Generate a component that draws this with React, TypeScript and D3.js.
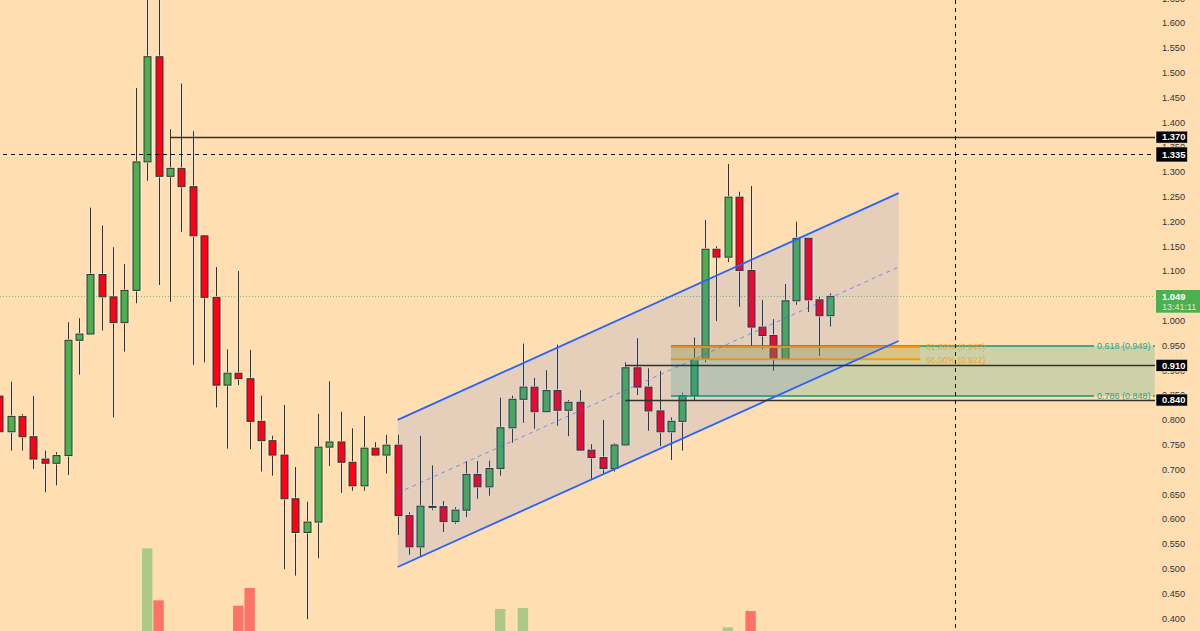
import React from "react";
import * as d3 from "d3";

// prices, one entry per candle
const opens = [0.848, 0.776, 0.807, 0.766, 0.721, 0.7125, 0.728, 0.9605, 0.973, 1.093, 1.048, 0.996, 1.061, 1.32, 1.532, 1.291, 1.307, 1.27, 1.171, 1.047, 0.87, 0.894, 0.883, 0.797, 0.758, 0.729, 0.641, 0.573, 0.594, 0.745, 0.7555, 0.7145, 0.667, 0.743, 0.729, 0.749, 0.607, 0.544, 0.6245, 0.625, 0.595, 0.618, 0.69, 0.665, 0.702, 0.784, 0.8415, 0.866, 0.8165, 0.859, 0.8194, 0.8355, 0.739, 0.724, 0.702, 0.7494, 0.905, 0.866, 0.818, 0.776, 0.797, 0.849, 0.922, 1.144, 1.128, 1.249, 1.101, 0.987, 0.97, 0.923, 1.04, 1.166, 1.042, 1.01];
const highs = [0.848, 0.877, 0.812, 0.848, 0.738, 0.735, 0.997, 1.005, 1.228, 1.192, 1.148, 1.114, 1.469, 1.7, 1.7, 1.386, 1.478, 1.382, 1.172, 1.108, 0.942, 1.1, 0.941, 0.849, 0.768, 0.83, 0.705, 0.635, 0.812, 0.878, 0.8165, 0.783, 0.808, 0.755, 0.77, 0.77, 0.614, 0.768, 0.7085, 0.6365, 0.624, 0.717, 0.717, 0.718, 0.845, 0.849, 0.954, 0.8845, 0.9, 0.952, 0.84, 0.86, 0.751, 0.8, 0.753, 0.916, 0.9645, 0.904, 0.899, 0.805, 0.855, 0.966, 1.203, 1.15, 1.316, 1.26, 1.2715, 1.042, 1.003, 1.074, 1.1995, 1.167, 1.048, 1.055];
const lows = [0.776, 0.738, 0.738, 0.701, 0.654, 0.668, 0.689, 0.891, 0.973, 0.98, 0.805, 0.9375, 1.035, 1.282, 1.072, 1.038, 1.179, 0.911, 0.916, 0.825, 0.742, 0.87, 0.741, 0.696, 0.6875, 0.499, 0.486, 0.398, 0.521, 0.707, 0.653, 0.657, 0.657, 0.7266, 0.692, 0.568, 0.528, 0.524, 0.618, 0.574, 0.59, 0.604, 0.641, 0.647, 0.6875, 0.754, 0.794, 0.782, 0.8165, 0.788, 0.767, 0.739, 0.68, 0.69, 0.696, 0.747, 0.85, 0.778, 0.747, 0.719, 0.738, 0.84, 0.916, 0.999, 1.118, 1.028, 0.9455, 0.942, 0.899, 0.921, 1.032, 1.0175, 0.929, 0.988];
const closes = [0.776, 0.807, 0.766, 0.721, 0.7125, 0.728, 0.9605, 0.973, 1.093, 1.048, 0.996, 1.061, 1.32, 1.532, 1.291, 1.307, 1.27, 1.171, 1.047, 0.87, 0.894, 0.883, 0.797, 0.758, 0.729, 0.641, 0.573, 0.594, 0.745, 0.7555, 0.7145, 0.667, 0.743, 0.729, 0.749, 0.607, 0.544, 0.626, 0.6255, 0.595, 0.618, 0.69, 0.665, 0.702, 0.784, 0.8415, 0.866, 0.8165, 0.859, 0.8194, 0.8355, 0.739, 0.724, 0.702, 0.7494, 0.905, 0.866, 0.818, 0.776, 0.797, 0.849, 0.922, 1.144, 1.128, 1.249, 1.101, 0.987, 0.97, 0.923, 1.04, 1.166, 1.042, 1.01, 1.049];

// only the volume bars tall enough to show above the bottom edge
const volumeCandles = [13, 14, 21, 22, 44, 46, 64, 66];
const volumeValues = [100, 60.5, 56.4, 69.9, 53.9, 54.7, 40, 52.4];

const priceTicks = ["0.400", "0.450", "0.500", "0.550", "0.600", "0.650", "0.700", "0.750", "0.800", "0.850", "0.900", "0.950", "1.000", "1.050", "1.100", "1.150", "1.200", "1.250", "1.300", "1.350", "1.400", "1.450", "1.500", "1.550", "1.600", "1.650"];
const hiddenTicks = ["1.050"];

// channel: [start candle, end candle], [start price, end price]
const channelCandles = [35, 79];
const channelUpper = [0.8, 1.257];
const channelMiddle = [0.6527, 1.1082];
const channelLower = [0.5035, 0.959];

const levels = [
  { price: 1.37, from: 15, label: "1.370" },
  { price: 0.91, from: 55, label: "0.910" },
  { price: 0.84, from: 55, label: "0.840" },
];
const crosshairPrice = 1.335;
const crosshairCandle = 84;
const lastPrice = 1.049;
const fibLevels = [
  { price: 0.949, label: "0.618 (0.949)" },
  { price: 0.848, label: "0.786 (0.848)" },
];
const oteLevels = [
  { price: 0.947, label: "61.80% (0.947)" },
  { price: 0.922, label: "66.00% (0.922)" },
];
const zoneFrom = 59;
const fibTo = 101.5;
const oteTo = 80.9;

const width = 1200;
const height = 631;
const axisLeft = 1155;
const font = "'Liberation Sans', Arial, sans-serif";
const bg = "#FFDFB2";
const green = "#4CAF50";
const red = "#FF0018";
const blue = "#2962FF";
const teal = "#089981";
const orange = "#FF9800";
const ink = "#33322a";

const x = d3.scaleLinear().domain([0, 73]).range([-0.8, 830.3]);
const y = d3.scaleLinear().domain([0.4, 1.6]).range([618.3, 23]);
const vol = d3.scaleLinear().domain([0, 100]).range([680, 548.3]);

const crisp = (v: number) => Math.round(v) + 0.5;

const PriceTag = ({ price, label, tall }: { price: number; label: string; tall?: boolean }) => {
  const h = tall ? 15 : 12;
  return (
    <g>
      <rect x={1156} y={y(price) - h / 2} width={31.5} height={h} fill="#000" stroke="#FFEBCF" strokeWidth={0.6} />
      <text x={1162} y={y(price) + 3.4} fill="#fff" fontSize={9.4} fontWeight={700}>
        {label}
      </text>
    </g>
  );
};

export default function App() {
  const channel = d3.area<number>()
    .x((_, i) => x(channelCandles[i]))
    .y0((_, i) => y(channelLower[i]))
    .y1((_, i) => y(channelUpper[i]));
  const edge = d3.line<[number, number]>()
    .x((d) => x(d[0]))
    .y((d) => y(d[1]));
  const channelLine = (prices: number[]) =>
    edge(channelCandles.map((c, i) => [c, prices[i]] as [number, number])) ?? "";

  return (
    <svg
      width={width}
      height={height}
      viewBox={`0 0 ${width} ${height}`}
      style={{ position: "absolute", left: 0, top: 0, display: "block", background: bg, fontFamily: font }}
    >
      {/* volume */}
      {volumeCandles.map((c, i) => (
        <rect
          key={c}
          x={x(c) - 5.2}
          y={vol(volumeValues[i])}
          width={10.4}
          height={height - vol(volumeValues[i])}
          fill={closes[c] >= opens[c] ? "#ADC987" : "#FF7366"}
        />
      ))}

      {/* last price line */}
      <line x1={0} x2={axisLeft} y1={crisp(y(lastPrice))} y2={crisp(y(lastPrice))} stroke={green} strokeOpacity={0.7} strokeDasharray="1 2" />

      {/* candles */}
      {opens.map((o, i) => {
        const up = closes[i] >= o;
        const cx = Math.round(x(i));
        const top = y(Math.max(o, closes[i]));
        const bottom = y(Math.min(o, closes[i]));
        return (
          <g key={i}>
            <line x1={cx + 0.5} x2={cx + 0.5} y1={y(highs[i])} y2={y(lows[i])} stroke="#FFF1DC" strokeWidth={2.6} />
            <line x1={cx + 0.5} x2={cx + 0.5} y1={y(highs[i])} y2={y(lows[i])} stroke={ink} strokeWidth={1.1} />
            <rect x={cx - 3.5} y={top} width={8} height={Math.max(bottom - top, 1)} fill="none" stroke="#FFF1DC" strokeWidth={2} />
            <rect x={cx - 3} y={top} width={7} height={Math.max(bottom - top, 1)} fill={up ? green : red} stroke={ink} strokeWidth={1} />
          </g>
        );
      })}

      {/* fib zone */}
      <rect x={x(zoneFrom)} width={x(fibTo) - x(zoneFrom)} y={y(fibLevels[0].price)} height={y(fibLevels[1].price) - y(fibLevels[0].price)} fill={teal} fillOpacity={0.2} />
      {fibLevels.map((l) => (
        <g key={l.label}>
          <line x1={x(zoneFrom)} x2={1094} y1={y(l.price)} y2={y(l.price)} stroke={teal} strokeWidth={1.5} />
          <line x1={1153} x2={x(fibTo)} y1={y(l.price)} y2={y(l.price)} stroke={teal} strokeWidth={1.5} />
          <text x={1097} y={y(l.price) + 3.2} fill="#22A68F" fontSize={9}>
            {l.label}
          </text>
        </g>
      ))}

      {/* retracement box */}
      <rect x={x(zoneFrom)} width={x(oteTo) - x(zoneFrom)} y={y(oteLevels[0].price)} height={y(oteLevels[1].price) - y(oteLevels[0].price)} fill={orange} fillOpacity={0.2} />
      {oteLevels.map((l) => (
        <g key={l.label}>
          <line x1={x(zoneFrom)} x2={x(oteTo)} y1={y(l.price)} y2={y(l.price)} stroke={orange} strokeWidth={2} />
          <text x={926} y={y(l.price) + 3.2} fill={orange} fillOpacity={0.8} fontSize={8.7}>
            {l.label}
          </text>
        </g>
      ))}

      {/* channel */}
      <path d={channel(channelCandles) ?? ""} fill={blue} fillOpacity={0.12} />
      <path d={channelLine(channelUpper)} fill="none" stroke={blue} strokeWidth={1.8} />
      <path d={channelLine(channelLower)} fill="none" stroke={blue} strokeWidth={1.8} />
      <path d={channelLine(channelMiddle)} fill="none" stroke={blue} strokeOpacity={0.6} strokeDasharray="4 4" />

      {/* horizontal levels */}
      {levels.map((l) => (
        <line key={l.label} x1={x(l.from)} x2={axisLeft} y1={crisp(y(l.price))} y2={crisp(y(l.price))} stroke={ink} strokeWidth={1.3} />
      ))}

      {/* crosshair */}
      <line x1={0} x2={axisLeft} y1={crisp(y(crosshairPrice))} y2={crisp(y(crosshairPrice))} stroke="#111" strokeDasharray="4 4" strokeDashoffset={5} />
      <line x1={crisp(x(crosshairCandle)) - 1} x2={crisp(x(crosshairCandle)) - 1} y1={0} y2={height} stroke="#111" strokeDasharray="4 4" />

      {/* price axis */}
      {priceTicks
        .filter((t) => !hiddenTicks.includes(t))
        .map((t) => (
          <text key={t} x={1162} y={y(+t) + 3.3} fill="#333" fontSize={9.2}>
            {t}
          </text>
        ))}
      {levels.map((l) => (
        <PriceTag key={l.label} price={l.price} label={l.label} />
      ))}
      <PriceTag price={crosshairPrice} label={crosshairPrice.toFixed(3)} tall />

      <rect x={1156} y={290} width={44} height={22.7} fill={green} />
      <text x={1162} y={y(lastPrice) + 3.3} fill="#fff" fontSize={9.4} fontWeight={700}>
        {lastPrice.toFixed(3)}
      </text>
      <text x={1162} y={310} fill="#fff" fillOpacity={0.8} fontSize={9}>
        13:41:11
      </text>
    </svg>
  );
}
